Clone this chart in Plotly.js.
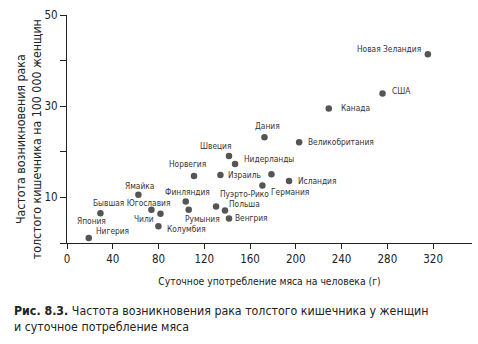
<!DOCTYPE html>
<html>
<head>
<meta charset="utf-8">
<script src="https://cdn.plot.ly/plotly-3.0.1.min.js"></script>
<style>html,body{margin:0;padding:0;background:#fff;}#chart{width:478px;height:344px;}</style>
</head>
<body>
<div id="chart"></div>
<script>
var countries = ["Новая Зеландия","США","Канада","Дания","Великобритания","Швеция","Нидерланды","Израиль","","Исландия","Германия","Норвегия","Ямайка","Финляндия","Румыния","Пуэрто-Рико","Польша","Венгрия","Бывшая Югославия","Чили","Колумбия","Япония","Нигерия"];
var meatGrams = [315.4,275.8,228.8,172.6,202.9,141.6,146.9,134.1,178.7,194.1,170.8,111.0,62.4,103.8,106.4,130.3,138.1,141.6,73.8,81.7,79.9,29.2,19.0];
var cancerRate = [41.4,32.8,29.5,23.2,22.1,19.1,17.3,14.9,15.1,13.6,12.6,14.7,10.6,9.1,7.3,8.0,7.1,5.4,7.3,6.4,3.7,6.5,1.1];
var xTickVals = [0,40,80,120,160,200,240,280,320];
var yTickVals = [0,10,20,30,40,50];
var yTickText = ["","10","","30","","50"];

// label placement (style): [xanchor, xshift, yshift]
var labelPos = [
  ["right",-5,5],["left",7.5,2.5],["left",10.5,0.5],["center",3,11],["left",6.5,0],
  ["right",3.7,10.3],["left",6.7,5],["left",5.6,0],["left",0,0],["left",7.4,0],
  ["left",6.6,-6],["center",-6.6,11.7],["center",1.5,9],["center",1.3,9.3],["left",-5.3,-9.3],
  ["left",2,12.5],["left",1.7,6.6],["left",4.4,0],["center",-20,6.7],["right",-4.4,-5],
  ["left",7,-3],["right",7.5,-7.7],["left",5.5,6.5]
];

var FONT = "'Liberation Sans Narrow','DejaVu Sans Condensed','Roboto Condensed',Arial,sans-serif";

var annotations = countries.map(function(c,i){
  return {x: meatGrams[i], y: cancerRate[i], xref:'x', yref:'y', text: c, showarrow:false,
    xanchor: labelPos[i][0], yanchor:'middle', xshift: labelPos[i][1], yshift: labelPos[i][2],
    font:{family:FONT, size:8.3, color:'#333'}};
});
annotations.push({
  xref:'paper', yref:'paper', x:-0.094, y:0.455, xanchor:'center', yanchor:'middle',
  textangle:-90, showarrow:false,
  text:'Частота возникновения рака<br>толстого кишечника на 100 000 женщин',
  font:{family:FONT, size:12.3, color:'#222'}
});
annotations.push({
  xref:'paper', yref:'paper', x:-0.136, y:-0.26, xanchor:'left', yanchor:'top', align:'left',
  showarrow:false,
  text:"<b>Рис. 8.3.</b> Частота возникновения рака толстого кишечника у женщин<br>и суточное потребление мяса",
  font:{family:FONT, size:12.3, color:'#222'}
});

var trace = {
  x: meatGrams, y: cancerRate, mode:'markers', type:'scatter',
  marker:{size:6.5, color:'#555'}, hoverinfo:'text', text: countries
};

var layout = {
  width:478, height:344,
  margin:{l:67, r:6, t:15, b:101},
  paper_bgcolor:'#fff', plot_bgcolor:'#fff',
  showlegend:false,
  font:{family:FONT, color:'#222'},
  xaxis:{range:[0,354], tickvals:xTickVals, ticks:'outside', ticklen:5, tickcolor:'#222',
    showline:true, linecolor:'#222', linewidth:1, showgrid:false, zeroline:false,
    tickfont:{family:FONT, size:11.5, color:'#222'},
    title:{text:'Суточное употребление мяса на человека (г)', font:{family:FONT, size:10.3, color:'#222'}, standoff:12}},
  yaxis:{range:[0,50], tickvals:yTickVals, ticktext:yTickText, ticks:'outside', ticklen:6, tickcolor:'#222',
    showline:true, linecolor:'#222', linewidth:1, showgrid:false, zeroline:false,
    tickfont:{family:FONT, size:11.5, color:'#222'}},
  annotations: annotations
};

Plotly.newPlot('chart',[trace],layout,{displayModeBar:false, staticPlot:true});
</script>
</body>
</html>
